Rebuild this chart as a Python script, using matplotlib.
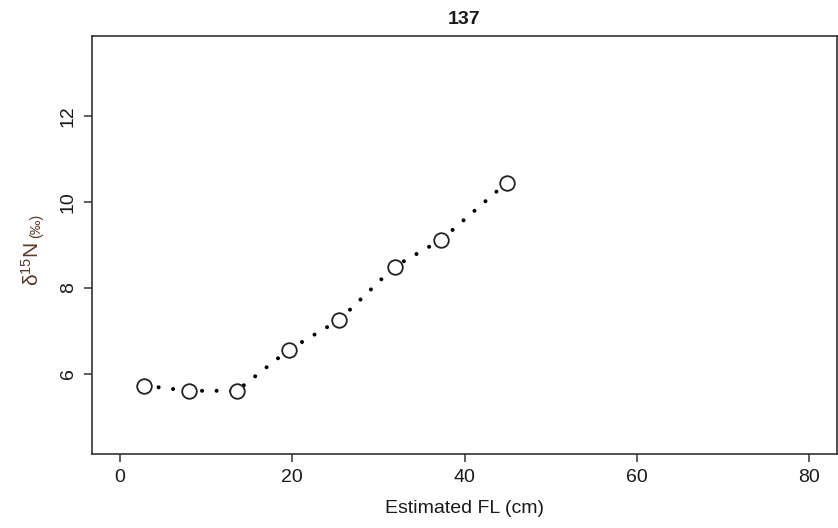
import matplotlib
matplotlib.use("Agg")
import matplotlib.pyplot as plt

plt.rcParams['font.family'] = ['Liberation Sans', 'DejaVu Sans']
plt.rcParams['mathtext.fontset'] = 'custom'
plt.rcParams['mathtext.rm'] = 'Liberation Sans'

fl_cm = [2.85, 8.0, 13.6, 19.6, 25.5, 31.9, 37.3, 44.9]
d15n = [5.73, 5.61, 5.61, 6.56, 7.26, 8.50, 9.12, 10.45]
xticks = [0, 20, 40, 60, 80]
yticks = [6, 8, 10, 12]
title = "137"

W, H = 838, 528
fig = plt.figure(figsize=(W/100, H/100), dpi=100)
ax = fig.add_axes([92/W, 1-454/H, (837-92)/W, (454-36)/H])

ax.plot(fl_cm, d15n, linestyle=(0, (0.01, 3.6)), linewidth=2.9, color='black',
        dash_capstyle='round', zorder=2)
ax.plot(fl_cm, d15n, linestyle='none',
        marker='o', markersize=10.5, markerfacecolor='white',
        markeredgecolor='#222222', markeredgewidth=1.3, zorder=3)

ax.set_xlim(-3.2, 83.2)
ax.set_ylim(4.14, 13.86)
ax.set_xticks(xticks)
ax.set_yticks(yticks)
ax.tick_params(axis='both', length=6, width=1.1, color='#333333',
               labelsize=14, labelcolor='#1a1a1a', pad=5)
for lab in ax.get_yticklabels():
    lab.set_rotation(90)
    lab.set_va('center')
for s in ax.spines.values():
    s.set_linewidth(1.2)
    s.set_color('#333333')

ax.set_title(title, fontsize=14, fontweight='bold', color='#1a1a1a', pad=9)
ax.set_xlabel("Estimated FL (cm)", fontsize=14, color='#1a1a1a', labelpad=10)

ylab_color = '#5a3a2a'
t1 = fig.text(43/W, 1-286/H, r'$\mathregular{\delta^{15}}$N', fontsize=15, color=ylab_color,
              rotation=90, ha='right', va='bottom')
ax.annotate('(‰)', xy=(1, 1), xycoords=t1, xytext=(0, 3), textcoords='offset points',
            fontsize=10.5, color=ylab_color, rotation=90, ha='right', va='bottom',
            annotation_clip=False)

fig.savefig("out.png", dpi=100)
